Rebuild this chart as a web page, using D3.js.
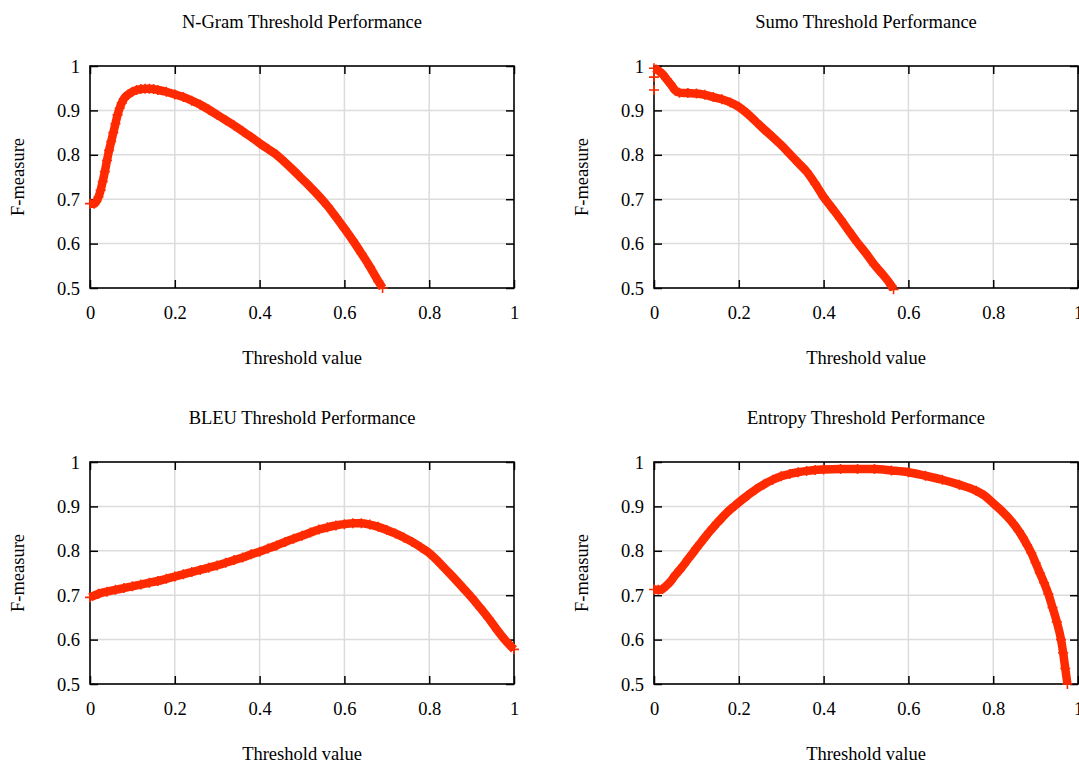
<!DOCTYPE html>
<html><head><meta charset="utf-8">
<script src="https://cdn.jsdelivr.net/npm/d3@7"></script>
<style>
html,body{margin:0;padding:0;background:#fff;}
svg text{font-family:"Liberation Serif","Times New Roman",serif !important;fill:#000;}
</style></head>
<body><svg id="c" width="1079" height="760"></svg>
<script>
const titles = ["N-Gram Threshold Performance","Sumo Threshold Performance","BLEU Threshold Performance","Entropy Threshold Performance"];
const xLabel = "Threshold value";
const yLabel = "F-measure";
const xTicks = [0,0.2,0.4,0.6,0.8,1];
const yTicks = [0.5,0.6,0.7,0.8,0.9,1];

const ngram = [[0,0.69],[0.01,0.69],[0.015,0.695],[0.02,0.705],[0.025,0.72],[0.03,0.74],[0.035,0.762],[0.04,0.787],[0.045,0.81],[0.05,0.83],[0.055,0.85],[0.06,0.87],[0.065,0.89],[0.07,0.905],[0.075,0.917],[0.08,0.926],[0.09,0.936],[0.10,0.942],[0.11,0.946],[0.12,0.948],[0.13,0.949],[0.14,0.949],[0.15,0.948],[0.16,0.946],[0.18,0.942],[0.20,0.936],[0.22,0.93],[0.24,0.922],[0.26,0.913],[0.28,0.902],[0.30,0.89],[0.32,0.878],[0.34,0.866],[0.36,0.853],[0.38,0.84],[0.40,0.826],[0.42,0.813],[0.44,0.80],[0.46,0.783],[0.48,0.765],[0.50,0.746],[0.52,0.727],[0.54,0.707],[0.56,0.685],[0.58,0.66],[0.60,0.634],[0.62,0.607],[0.64,0.578],[0.66,0.548],[0.68,0.515],[0.69,0.5]];

const sumo = [[0,0.995],[0.01,0.99],[0.02,0.982],[0.03,0.97],[0.04,0.958],[0.05,0.945],[0.06,0.94],[0.08,0.939],[0.10,0.938],[0.12,0.935],[0.14,0.93],[0.16,0.925],[0.18,0.918],[0.20,0.908],[0.22,0.893],[0.24,0.875],[0.26,0.857],[0.28,0.84],[0.30,0.822],[0.32,0.802],[0.34,0.782],[0.36,0.762],[0.38,0.735],[0.40,0.705],[0.42,0.68],[0.44,0.655],[0.46,0.628],[0.48,0.602],[0.50,0.578],[0.52,0.552],[0.54,0.53],[0.56,0.505],[0.565,0.497]];
const sumoOutliers = [[0,0.975],[0,0.946]];

const bleu = [[0,0.695],[0.02,0.703],[0.04,0.708],[0.06,0.712],[0.08,0.716],[0.10,0.72],[0.12,0.724],[0.14,0.728],[0.16,0.732],[0.18,0.737],[0.20,0.742],[0.22,0.747],[0.24,0.752],[0.26,0.757],[0.28,0.762],[0.30,0.767],[0.32,0.773],[0.34,0.779],[0.36,0.785],[0.38,0.792],[0.40,0.798],[0.42,0.805],[0.44,0.812],[0.46,0.82],[0.48,0.827],[0.50,0.834],[0.52,0.841],[0.54,0.848],[0.56,0.853],[0.58,0.857],[0.60,0.86],[0.62,0.862],[0.64,0.862],[0.66,0.859],[0.68,0.854],[0.70,0.847],[0.72,0.839],[0.74,0.83],[0.76,0.82],[0.78,0.808],[0.80,0.795],[0.82,0.777],[0.84,0.757],[0.86,0.737],[0.88,0.716],[0.90,0.695],[0.92,0.672],[0.94,0.648],[0.96,0.622],[0.98,0.598],[1.0,0.578]];

const entropy = [[0,0.713],[0.01,0.712],[0.02,0.714],[0.03,0.722],[0.04,0.732],[0.05,0.745],[0.06,0.756],[0.07,0.768],[0.08,0.781],[0.09,0.793],[0.10,0.806],[0.11,0.818],[0.12,0.83],[0.13,0.842],[0.14,0.853],[0.15,0.864],[0.16,0.874],[0.17,0.884],[0.18,0.893],[0.19,0.901],[0.20,0.909],[0.22,0.924],[0.24,0.938],[0.26,0.95],[0.28,0.96],[0.30,0.968],[0.32,0.973],[0.34,0.977],[0.36,0.98],[0.38,0.982],[0.40,0.983],[0.44,0.984],[0.48,0.984],[0.52,0.984],[0.56,0.981],[0.60,0.977],[0.64,0.969],[0.68,0.96],[0.72,0.949],[0.76,0.935],[0.78,0.924],[0.80,0.907],[0.82,0.89],[0.84,0.87],[0.86,0.845],[0.87,0.83],[0.88,0.813],[0.89,0.795],[0.90,0.773],[0.91,0.75],[0.92,0.728],[0.93,0.703],[0.94,0.672],[0.95,0.64],[0.96,0.6],[0.965,0.57],[0.97,0.535],[0.975,0.5]];

const seriesList = [ngram, sumo, bleu, entropy];
const extraPoints = [[], sumoOutliers, [], []];

const RED = "#ff2a00";
const FS = "18.5px";
const panelW = 424, panelH = 222;
const origins = [[90,66],[654,66],[90,462],[654,462]];

const svg = d3.select("#c");
const fmt = d3.format("~g");

seriesList.forEach((data, i) => {
  const [ox, oy] = origins[i];
  const g = svg.append("g").attr("transform", `translate(${ox},${oy})`);
  const x = d3.scaleLinear().domain([0,1]).range([0,panelW]);
  const y = d3.scaleLinear().domain([0.5,1]).range([panelH,0]);

  // grid
  g.append("g").selectAll("line").data(xTicks.slice(1,-1)).join("line")
    .attr("x1", d=>x(d)).attr("x2", d=>x(d)).attr("y1",0).attr("y2",panelH)
    .attr("stroke","#dcdcdc").attr("stroke-width",1.5);
  g.append("g").selectAll("line").data(yTicks.slice(1,-1)).join("line")
    .attr("y1", d=>y(d)).attr("y2", d=>y(d)).attr("x1",0).attr("x2",panelW)
    .attr("stroke","#dcdcdc").attr("stroke-width",1.5);

  // axes (inward ticks, mirrored)
  const tl = 8;
  const ax = (axis) => axis.tickSizeInner(-tl).tickSizeOuter(0).tickPadding(0);
  const bottom = g.append("g").attr("transform",`translate(0,${panelH})`)
    .call(ax(d3.axisBottom(x).tickValues(xTicks).tickFormat(fmt)));
  bottom.selectAll("text").attr("dy",null).attr("y",31).style("font-size",FS);
  const top = g.append("g").call(ax(d3.axisTop(x).tickValues(xTicks)).tickFormat(""));
  const left = g.append("g").call(ax(d3.axisLeft(y).tickValues(yTicks).tickFormat(fmt)));
  left.selectAll("text").attr("x",-10).attr("dy","0.33em").style("font-size",FS);
  const right = g.append("g").attr("transform",`translate(${panelW},0)`)
    .call(ax(d3.axisRight(y).tickValues(yTicks)).tickFormat(""));
  [bottom,top,left,right].forEach(a=>{
    a.attr("font-family",null).attr("font-size",null);
    a.select(".domain").remove();
    a.selectAll(".tick line").attr("stroke","#000").attr("stroke-width",1.5);
  });
  g.append("rect").attr("width",panelW).attr("height",panelH)
    .attr("fill","none").attr("stroke","#000").attr("stroke-width",1.6);

  // data band
  const pts = data.filter(d=>d[1]>=0.495);
  g.append("path").datum(pts)
    .attr("d", d3.line().curve(d3.curveMonotoneX).x(d=>x(d[0])).y(d=>y(d[1])))
    .attr("fill","none").attr("stroke",RED).attr("stroke-width",8.5)
    .attr("stroke-linejoin","round").attr("stroke-linecap","butt");
  const s = 5;
  g.append("g").selectAll("path").data(pts.concat(extraPoints[i])).join("path")
    .attr("d", d=>{const px=x(d[0]), py=y(d[1]);
      return `M${px-s},${py}H${px+s}M${px},${py-s}V${py+s}`;})
    .attr("stroke",RED).attr("stroke-width",1.6).attr("fill","none");

  // titles and labels
  g.append("text").attr("x",panelW/2).attr("y",-38).attr("text-anchor","middle")
    .style("font-size",FS).text(titles[i]);
  g.append("text").attr("x",panelW/2).attr("y",panelH+76).attr("text-anchor","middle")
    .style("font-size",FS).text(xLabel);
  g.append("text").attr("transform",`translate(${-66},${panelH/2}) rotate(-90)`)
    .attr("text-anchor","middle").style("font-size",FS).text(yLabel);
});
</script></body></html>
